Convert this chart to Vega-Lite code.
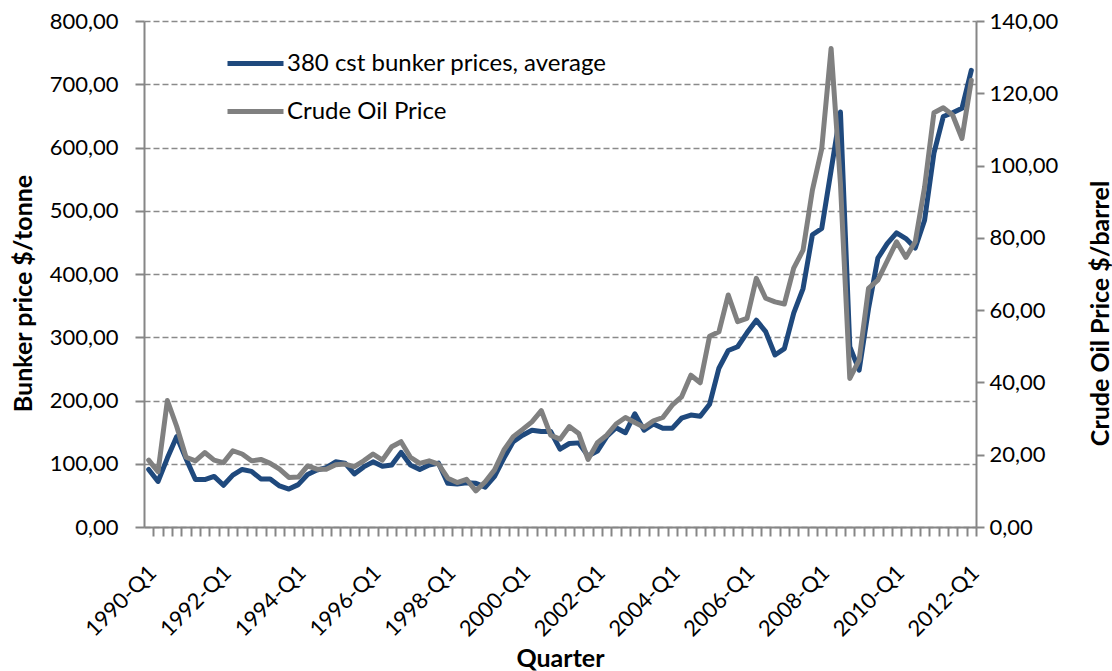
{
  "$schema": "https://vega.github.io/schema/vega-lite/v6.json",
  "width": 832,
  "height": 506,
  "autosize": {"type": "none"},
  "padding": {"left": 144, "top": 21, "right": 136, "bottom": 144},
  "background": "white",
  "config": {
    "view": {"stroke": null},
    "font": "Lato",
    "axis": {
      "domainColor": "#868686",
      "domainWidth": 2,
      "tickColor": "#868686",
      "tickWidth": 2,
      "labelColor": "#000000",
      "titleColor": "#000000",
      "labelFont": "Lato",
      "titleFont": "Lato",
      "labelFontSize": 22,
      "titleFontSize": 25,
      "titleFontWeight": "bold"
    }
  },
  "data": {
    "values": [
      {"q": "1990-Q1", "bunker": 91, "crude": 18.5},
      {"q": "1990-Q2", "bunker": 72, "crude": 15.3},
      {"q": "1990-Q3", "bunker": 109, "crude": 35.0},
      {"q": "1990-Q4", "bunker": 143, "crude": 27.8},
      {"q": "1991-Q1", "bunker": 108, "crude": 19.3},
      {"q": "1991-Q2", "bunker": 75, "crude": 18.3},
      {"q": "1991-Q3", "bunker": 75, "crude": 20.6},
      {"q": "1991-Q4", "bunker": 80, "crude": 18.5},
      {"q": "1992-Q1", "bunker": 66, "crude": 17.8},
      {"q": "1992-Q2", "bunker": 82, "crude": 21.1},
      {"q": "1992-Q3", "bunker": 91, "crude": 20.2},
      {"q": "1992-Q4", "bunker": 88, "crude": 18.3},
      {"q": "1993-Q1", "bunker": 76, "crude": 18.7},
      {"q": "1993-Q2", "bunker": 76, "crude": 17.6},
      {"q": "1993-Q3", "bunker": 65, "crude": 16.0},
      {"q": "1993-Q4", "bunker": 60, "crude": 13.7},
      {"q": "1994-Q1", "bunker": 67, "crude": 13.8},
      {"q": "1994-Q2", "bunker": 83, "crude": 16.9},
      {"q": "1994-Q3", "bunker": 90, "crude": 16.0},
      {"q": "1994-Q4", "bunker": 94, "crude": 16.0},
      {"q": "1995-Q1", "bunker": 103, "crude": 17.2},
      {"q": "1995-Q2", "bunker": 101, "crude": 17.4},
      {"q": "1995-Q3", "bunker": 84, "crude": 16.7},
      {"q": "1995-Q4", "bunker": 95, "crude": 18.3},
      {"q": "1996-Q1", "bunker": 103, "crude": 20.2},
      {"q": "1996-Q2", "bunker": 96, "crude": 18.5},
      {"q": "1996-Q3", "bunker": 98, "crude": 22.2},
      {"q": "1996-Q4", "bunker": 118, "crude": 23.6},
      {"q": "1997-Q1", "bunker": 98, "crude": 19.3},
      {"q": "1997-Q2", "bunker": 91, "crude": 17.6},
      {"q": "1997-Q3", "bunker": 98, "crude": 18.3},
      {"q": "1997-Q4", "bunker": 101, "crude": 17.4},
      {"q": "1998-Q1", "bunker": 69, "crude": 13.5},
      {"q": "1998-Q2", "bunker": 68, "crude": 12.3},
      {"q": "1998-Q3", "bunker": 70, "crude": 13.2},
      {"q": "1998-Q4", "bunker": 69, "crude": 10.0},
      {"q": "1999-Q1", "bunker": 63, "crude": 12.5},
      {"q": "1999-Q2", "bunker": 80, "crude": 15.8},
      {"q": "1999-Q3", "bunker": 109, "crude": 21.3},
      {"q": "1999-Q4", "bunker": 135, "crude": 25.0},
      {"q": "2000-Q1", "bunker": 145, "crude": 27.0},
      {"q": "2000-Q2", "bunker": 153, "crude": 29.1},
      {"q": "2000-Q3", "bunker": 151, "crude": 32.2},
      {"q": "2000-Q4", "bunker": 151, "crude": 25.4},
      {"q": "2001-Q1", "bunker": 123, "crude": 24.3},
      {"q": "2001-Q2", "bunker": 132, "crude": 27.8},
      {"q": "2001-Q3", "bunker": 133, "crude": 25.9},
      {"q": "2001-Q4", "bunker": 112, "crude": 18.7},
      {"q": "2002-Q1", "bunker": 120, "crude": 23.3},
      {"q": "2002-Q2", "bunker": 143, "crude": 25.4},
      {"q": "2002-Q3", "bunker": 157, "crude": 28.5},
      {"q": "2002-Q4", "bunker": 149, "crude": 30.3},
      {"q": "2003-Q1", "bunker": 179, "crude": 28.9},
      {"q": "2003-Q2", "bunker": 153, "crude": 27.6},
      {"q": "2003-Q3", "bunker": 163, "crude": 29.4},
      {"q": "2003-Q4", "bunker": 156, "crude": 30.3},
      {"q": "2004-Q1", "bunker": 156, "crude": 33.7},
      {"q": "2004-Q2", "bunker": 172, "crude": 36.0},
      {"q": "2004-Q3", "bunker": 177, "crude": 42.0},
      {"q": "2004-Q4", "bunker": 175, "crude": 39.9},
      {"q": "2005-Q1", "bunker": 194, "crude": 52.8},
      {"q": "2005-Q2", "bunker": 251, "crude": 54.0},
      {"q": "2005-Q3", "bunker": 279, "crude": 64.2},
      {"q": "2005-Q4", "bunker": 285, "crude": 56.8},
      {"q": "2006-Q1", "bunker": 307, "crude": 57.7},
      {"q": "2006-Q2", "bunker": 327, "crude": 68.8},
      {"q": "2006-Q3", "bunker": 309, "crude": 63.3},
      {"q": "2006-Q4", "bunker": 272, "crude": 62.3},
      {"q": "2007-Q1", "bunker": 282, "crude": 61.7},
      {"q": "2007-Q2", "bunker": 338, "crude": 71.6},
      {"q": "2007-Q3", "bunker": 377, "crude": 76.6},
      {"q": "2007-Q4", "bunker": 462, "crude": 93.2},
      {"q": "2008-Q1", "bunker": 472, "crude": 104.7},
      {"q": "2008-Q2", "bunker": 564, "crude": 132.4},
      {"q": "2008-Q3", "bunker": 656, "crude": 95.0},
      {"q": "2008-Q4", "bunker": 285, "crude": 41.1},
      {"q": "2009-Q1", "bunker": 248, "crude": 46.2},
      {"q": "2009-Q2", "bunker": 345, "crude": 66.0},
      {"q": "2009-Q3", "bunker": 425, "crude": 68.3},
      {"q": "2009-Q4", "bunker": 448, "crude": 73.6},
      {"q": "2010-Q1", "bunker": 465, "crude": 78.9},
      {"q": "2010-Q2", "bunker": 456, "crude": 74.6},
      {"q": "2010-Q3", "bunker": 441, "crude": 78.9},
      {"q": "2010-Q4", "bunker": 485, "crude": 94.0},
      {"q": "2011-Q1", "bunker": 591, "crude": 114.6},
      {"q": "2011-Q2", "bunker": 649, "crude": 116.0},
      {"q": "2011-Q3", "bunker": 655, "crude": 114.0},
      {"q": "2011-Q4", "bunker": 662, "crude": 107.5},
      {"q": "2012-Q1", "bunker": 722, "crude": 123.6}
    ]
  },
  "layer": [
    {
      "mark": {"type": "line", "strokeWidth": 5, "strokeJoin": "round", "strokeCap": "round"},
      "encoding": {
        "x": {
          "field": "q",
          "type": "ordinal",
          "sort": null,
          "scale": {"type": "point", "padding": 0.5},
          "axis": {
            "title": "Quarter",
            "tickSize": 9,
            "tickOffset": 4.674,
            "labelAngle": -45,
            "labelAlign": "right",
            "labelBaseline": "middle",
            "labelOffset": -1,
            "labelPadding": 33,
            "labelOverlap": false,
            "labelExpr": "(slice(datum.value,5)=='Q1' && toNumber(slice(datum.value,0,4))%2==0) ? datum.value : ''",
            "grid": false,
            "titleX": 416,
            "titleY": 139,
            "titleBaseline": "alphabetic",
            "titleAlign": "center"
          }
        },
        "y": {
          "field": "bunker",
          "type": "quantitative",
          "scale": {"domain": [0, 800], "nice": false},
          "axis": {
            "title": "Bunker price $/tonne",
            "values": [0, 100, 200, 300, 400, 500, 600, 700, 800],
            "labelExpr": "replace(format(datum.value,'.2f'),'.',',')",
            "tickSize": 9,
            "labelPadding": 17,
            "grid": true,
            "gridColor": "#8a8a8a",
            "gridWidth": 1.5,
            "gridDash": [6, 3],
            "titleAngle": 270,
            "titleX": -113,
            "titleY": 272,
            "titleAlign": "center",
            "titleBaseline": "alphabetic"
          }
        },
        "color": {
          "datum": "380 cst bunker prices, average",
          "type": "nominal",
          "scale": {
            "domain": ["380 cst bunker prices, average", "Crude Oil Price"],
            "range": ["#1F497D", "#808080"]
          },
          "legend": {
            "title": null,
            "orient": "none",
            "legendX": 81,
            "legendY": 12,
            "direction": "vertical",
            "symbolType": "stroke",
            "symbolSize": 3136,
            "symbolStrokeWidth": 5,
            "labelFont": "Lato",
            "labelFontSize": 24,
            "labelColor": "#000000",
            "labelOffset": 1,
            "rowPadding": 5,
            "padding": 0,
            "labelLimit": 500
          }
        }
      }
    },
    {
      "mark": {"type": "line", "strokeWidth": 5, "strokeJoin": "round", "strokeCap": "round"},
      "encoding": {
        "x": {"field": "q", "type": "ordinal", "sort": null},
        "y": {
          "field": "crude",
          "type": "quantitative",
          "scale": {"domain": [0, 140], "nice": false},
          "axis": {
            "orient": "right",
            "title": "Crude Oil Price $/barrel",
            "values": [0, 20, 40, 60, 80, 100, 120, 140],
            "labelExpr": "replace(format(datum.value,'.2f'),'.',',')",
            "tickSize": 8,
            "labelPadding": 5,
            "grid": false,
            "titleAngle": 270,
            "titleX": 132,
            "titleY": 292,
            "titleAlign": "center",
            "titleBaseline": "alphabetic"
          }
        },
        "color": {"datum": "Crude Oil Price", "type": "nominal"}
      }
    }
  ],
  "resolve": {"scale": {"y": "independent"}}
}
